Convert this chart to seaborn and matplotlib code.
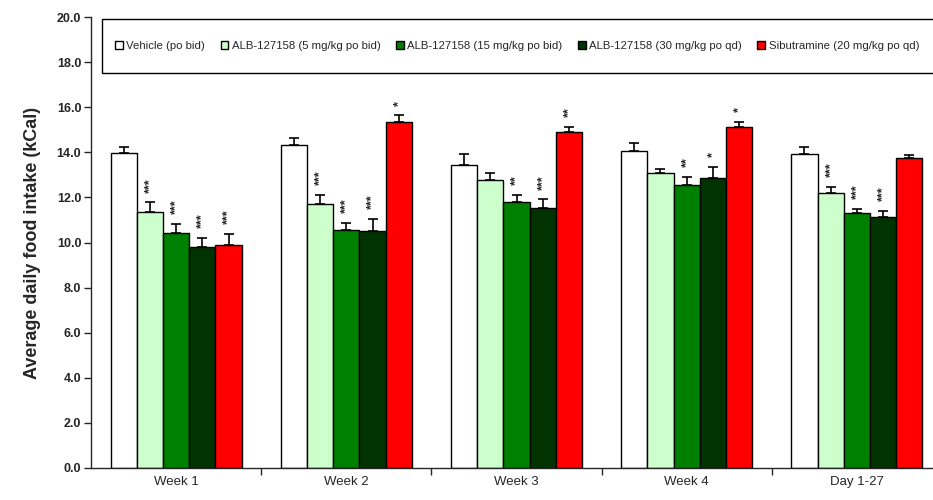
import matplotlib
matplotlib.use('Agg')
import matplotlib.pyplot as plt
from matplotlib.patches import Patch, Rectangle
from matplotlib.ticker import FixedLocator, FormatStrFormatter
import seaborn as sns
import pandas as pd
import numpy as np

groups = ['Week 1', 'Week 2', 'Week 3', 'Week 4', 'Day 1-27']
treatments = ['Vehicle (po bid)', 'ALB-127158 (5 mg/kg po bid)', 'ALB-127158 (15 mg/kg po bid)',
              'ALB-127158 (30 mg/kg po qd)', 'Sibutramine (20 mg/kg po qd)']
colors = ['#FFFFFF', '#CCFFCC', '#008000', '#003300', '#FF0000']

vehicle = [13.95, 14.32, 13.45, 14.06, 13.92]
vehicle_err = [0.27, 0.33, 0.46, 0.34, 0.31]
alb5 = [11.34, 11.71, 12.76, 13.08, 12.20]
alb5_err = [0.44, 0.40, 0.34, 0.18, 0.27]
alb15 = [10.44, 10.55, 11.81, 12.55, 11.31]
alb15_err = [0.40, 0.33, 0.31, 0.37, 0.19]
alb30 = [9.80, 10.52, 11.54, 12.86, 11.12]
alb30_err = [0.39, 0.52, 0.37, 0.50, 0.29]
sib = [9.88, 15.36, 14.91, 15.11, 13.75]
sib_err = [0.50, 0.28, 0.22, 0.25, 0.14]

vehicle_stars = ['', '', '', '', '']
alb5_stars = ['***', '***', '', '', '***']
alb15_stars = ['***', '***', '**', '**', '***']
alb30_stars = ['***', '***', '***', '*', '***']
sib_stars = ['***', '*', '**', '*', '']

means = [vehicle, alb5, alb15, alb30, sib]
errs = [vehicle_err, alb5_err, alb15_err, alb30_err, sib_err]
stars = [vehicle_stars, alb5_stars, alb15_stars, alb30_stars, sib_stars]

rows = []
for t, vals in zip(treatments, means):
    for g, v in zip(groups, vals):
        rows.append({'group': g, 'treatment': t, 'intake': v})
df = pd.DataFrame(rows)

sns.set_style('ticks')
plt.rcParams['font.family'] = ['Liberation Sans', 'DejaVu Sans']

fig = plt.figure(figsize=(9.33, 5), dpi=100)
ax = fig.add_axes([91 / 933, 32 / 500, 851 / 933, 451 / 500])

sns.barplot(data=df, x='group', y='intake', hue='treatment', order=groups,
            hue_order=treatments, palette=colors, saturation=1, width=0.77,
            edgecolor='black', linewidth=1, errorbar=None, legend=False, ax=ax)

for cont, e, st in zip(ax.containers, errs, stars):
    xs = [p.get_x() + p.get_width() / 2 for p in cont.patches]
    tops = [p.get_height() for p in cont.patches]
    ax.errorbar(xs, tops, yerr=[np.zeros(len(e)), e], fmt='none', ecolor='black',
                elinewidth=1.2, capsize=3.5, capthick=1.2, zorder=1)
    for x, h, err, s in zip(xs, tops, e, st):
        if s:
            ax.annotate(s, (x, h + err), xytext=(0, 7), textcoords='offset points',
                        ha='center', va='bottom', rotation=90, fontsize=9, fontweight='bold')

ax.set_ylim(0, 20)
ax.set_xlim(-0.5, 4.5)
ax.set_yticks(np.arange(0, 20.1, 2))
ax.yaxis.set_major_formatter(FormatStrFormatter('%.1f'))
ax.xaxis.set_minor_locator(FixedLocator(np.arange(0.5, 4.5, 1)))
ax.tick_params(axis='x', which='major', length=0, labelsize=9.5, pad=6)
ax.tick_params(axis='x', which='minor', length=5, width=1, direction='out')
ax.tick_params(axis='y', length=5, width=1, direction='out', labelsize=9, pad=2)
for lab in ax.get_yticklabels():
    lab.set_fontweight('bold')
ax.set_xlabel('')
ax.set_ylabel('Average daily food intake (kCal)', fontsize=13, fontweight='bold', labelpad=11)
sns.despine(ax=ax)
ax.spines['left'].set_linewidth(1)
ax.spines['bottom'].set_linewidth(1)

# legend box
box = Rectangle((11 / 851, (468 - 73) / 451), 1.0, 54 / 451, transform=ax.transAxes,
                facecolor='white', edgecolor='black', linewidth=1, clip_on=False, zorder=5)
ax.add_patch(box)
handles = [Patch(facecolor=c, edgecolor='black', linewidth=1) for c in colors]
leg = ax.legend(handles, treatments, ncol=5, loc='center left',
                bbox_to_anchor=(24 / 851, (468 - 46) / 451), frameon=False,
                fontsize=8.2, handlelength=0.7, handleheight=0.7, handletextpad=0.3,
                columnspacing=1.35, borderaxespad=0, borderpad=0)
leg.set_zorder(6)

fig.savefig('out.png', dpi=100)
